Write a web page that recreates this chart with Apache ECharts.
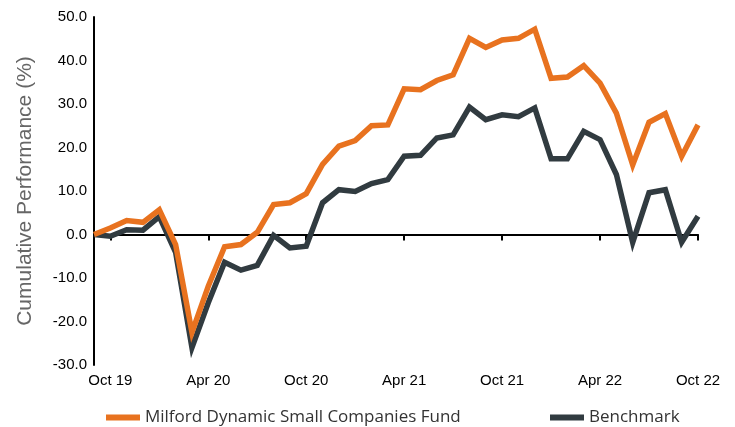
<!DOCTYPE html>
<html>
<head>
<meta charset="utf-8">
<script src="https://cdn.jsdelivr.net/npm/echarts@6/dist/echarts.min.js"></script>
<style>html,body{margin:0;padding:0;background:#fff}#c{width:735px;height:427px}</style>
</head>
<body>
<div id="c"></div>
<script>
var months = ['Sep 19','Oct 19','Nov 19','Dec 19','Jan 20','Feb 20','Mar 20','Apr 20','May 20','Jun 20','Jul 20','Aug 20','Sep 20','Oct 20','Nov 20','Dec 20','Jan 21','Feb 21','Mar 21','Apr 21','May 21','Jun 21','Jul 21','Aug 21','Sep 21','Oct 21','Nov 21','Dec 21','Jan 22','Feb 22','Mar 22','Apr 22','May 22','Jun 22','Jul 22','Aug 22','Sep 22','Oct 22'];
var fund = [0, 1.5, 3.2, 2.8, 5.7, -2.3, -22.5, -11.9, -2.8, -2.3, 0.5, 6.9, 7.3, 9.4, 16.1, 20.3, 21.6, 25.0, 25.2, 33.5, 33.3, 35.4, 36.7, 45.1, 43.0, 44.7, 45.1, 47.2, 35.9, 36.2, 38.8, 34.8, 27.9, 16.0, 25.8, 27.8, 18.0, 25.2];
var bench = [0, -0.4, 1.1, 1.0, 4.1, -4.1, -26.0, -15.7, -6.4, -8.2, -7.1, -0.2, -3.1, -2.7, 7.3, 10.3, 9.9, 11.7, 12.6, 18.0, 18.2, 22.2, 22.9, 29.3, 26.4, 27.5, 27.1, 29.1, 17.4, 17.4, 23.7, 21.8, 13.8, -1.8, 9.6, 10.3, -1.8, 4.2];
var fundName = 'Milford Dynamic Small Companies Fund';
var benchName = 'Benchmark';
var orange = '#E8721F', dark = '#313B40';

var chart = echarts.init(document.getElementById('c'));
var showIdx = function (i) { return (i - 1) % 6 === 0; };
chart.setOption({
  animation: false,
  grid: {left: 94, right: 37, top: 17, bottom: 62},
  legend: [
    {left: 101, top: 404, itemWidth: 34, itemHeight: 6, icon: 'rect', data: [fundName],
     textStyle: {fontFamily: 'Open Sans', fontSize: 17, color: '#333'}},
    {left: 545, top: 404, itemWidth: 34, itemHeight: 6, icon: 'rect', data: [benchName],
     textStyle: {fontFamily: 'Open Sans', fontSize: 17, color: '#333'}}
  ],
  xAxis: {
    type: 'category', data: months, boundaryGap: false,
    axisLine: {lineStyle: {color: '#000', width: 2}},
    axisTick: {interval: showIdx, length: 6, lineStyle: {color: '#000', width: 2}},
    axisLabel: {interval: showIdx, margin: 8, fontFamily: 'Liberation Sans', fontSize: 15, color: '#000'},
    splitLine: {show: false}
  },
  yAxis: {
    type: 'value', min: -30, max: 50, interval: 10,
    name: 'Cumulative Performance (%)', nameLocation: 'middle', nameGap: 58,
    nameTextStyle: {fontFamily: 'Liberation Sans', fontSize: 21, color: '#666'},
    axisLine: {show: true, lineStyle: {color: '#000', width: 2}},
    axisTick: {show: false},
    axisLabel: {margin: 7, fontFamily: 'Liberation Sans', fontSize: 15, color: '#000',
      formatter: function (v) { return v.toFixed(1); }},
    splitLine: {show: false}
  },
  series: [
    {name: benchName, type: 'line', data: bench, symbol: 'none', color: dark,
     lineStyle: {width: 5.5, color: dark, join: 'miter'}},
    {name: fundName, type: 'line', data: fund, symbol: 'none', color: orange,
     lineStyle: {width: 5.5, color: orange, join: 'miter'}}
  ]
});
</script>
</body>
</html>
